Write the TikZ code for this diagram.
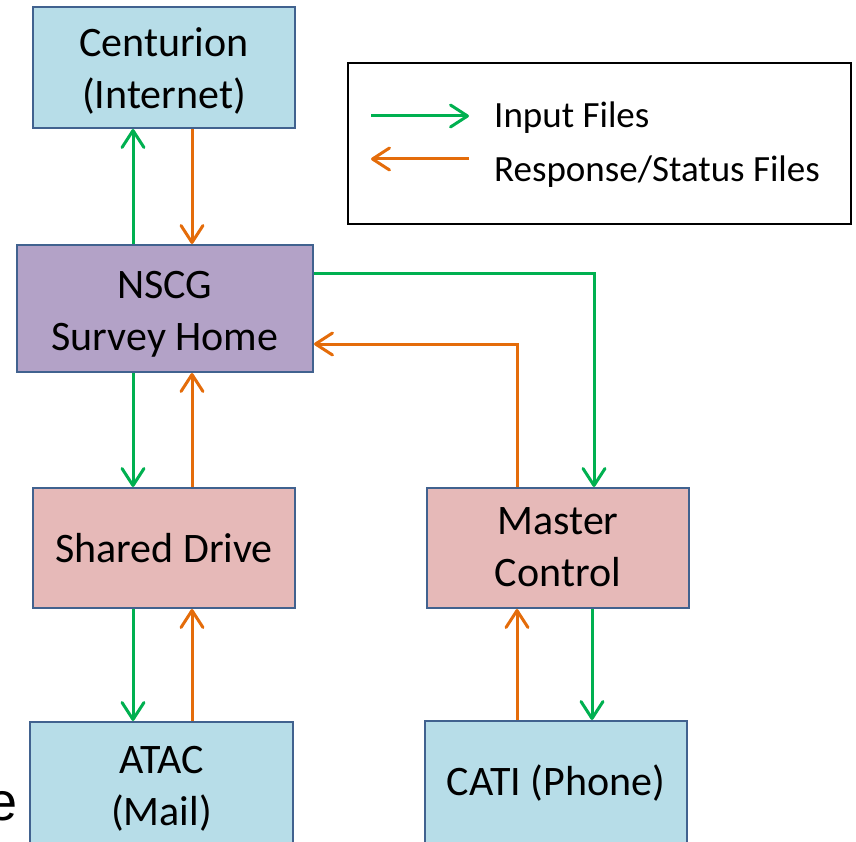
\documentclass[tikz,border=0pt]{standalone}
\usepackage{fontspec}
\setmainfont{Carlito}
\newfontfamily\arialfont{Liberation Sans}
\usetikzlibrary{arrows.meta,calc}
\definecolor{bluebox}{HTML}{B7DDE8}
\definecolor{purplebox}{HTML}{B3A2C7}
\definecolor{pinkbox}{HTML}{E6B9B8}
\definecolor{boxline}{HTML}{41628F}
\definecolor{ingreen}{HTML}{00B050}
\definecolor{resorange}{HTML}{E46C0A}
\newcommand{\lowerby}[2]{\raisebox{-#1}[\height][\depth]{\begin{tabular}{@{}c@{}}#2\end{tabular}}}
\tikzset{
  boxnode/.style={draw=boxline, line width=2pt, inner sep=0pt, align=center,
    font=\fontsize{42}{52}\selectfont},
  barb/.tip={Straight Barb[length=17pt,width=22pt,line width=3pt,line cap=round,line join=round]},
  inarrow/.style={draw=ingreen, line width=3pt, -{barb}},
  resarrow/.style={draw=resorange, line width=3pt, -{barb}},
  legendtext/.style={anchor=base west, inner sep=0pt, font=\fontsize{37}{44}\selectfont},
}
\begin{document}
\begin{tikzpicture}[x=1pt,y=-1pt]
\useasboundingbox (0,0) rectangle (856,842);

% boxes
\node[boxnode, fill=bluebox, minimum width=262pt, minimum height=121pt] (cent) at (164,67.5) {\lowerby{5pt}{Centurion\\(Internet)}};
\node[boxnode, fill=purplebox, minimum width=296pt, minimum height=127pt] (nscg) at (165,308.5) {\lowerby{6pt}{NSCG\\Survey Home}};
\node[boxnode, fill=pinkbox, minimum width=262pt, minimum height=120pt] (sd) at (164,548) {Shared Drive};
\node[boxnode, fill=pinkbox, minimum width=262pt, minimum height=120pt] (mc) at (558,548) {\lowerby{2pt}{Master\\Control}};
\node[boxnode, fill=bluebox, minimum width=263pt, minimum height=128pt] (atac) at (161.5,786) {\lowerby{3pt}{ATAC\\(Mail)}};
\node[boxnode, fill=bluebox, minimum width=262pt, minimum height=124pt] (cati) at (556,783) {CATI (Phone)};

% cropped slide letter
\node[anchor=base east, inner sep=0pt, font=\arialfont\fontsize{54}{60}\selectfont] (cut) at (18,820) {e};

% x / y guide coordinates
\coordinate (xa) at (133,0);
\coordinate (xb) at (192,0);
\coordinate (xc) at (594,0);
\coordinate (xd) at (517,0);
\coordinate (xe) at (592,0);
\coordinate (ya) at (0,273);
\coordinate (yb) at (0,344);

% connectors
\draw[inarrow] (nscg.north -| xa) -- (cent.south -| xa);
\draw[resarrow] (cent.south -| xb) -- (nscg.north -| xb);
\draw[inarrow] (nscg.east |- ya) -| (mc.north -| xc);
\draw[resarrow] (mc.north -| xd) |- (nscg.east |- yb);
\draw[inarrow] (nscg.south -| xa) -- (sd.north -| xa);
\draw[resarrow] (sd.north -| xb) -- (nscg.south -| xb);
\draw[inarrow] (sd.south -| xa) -- (atac.north -| xa);
\draw[resarrow] (atac.north -| xb) -- (sd.south -| xb);
\draw[resarrow] (cati.north -| xd) -- (mc.south -| xd);
\draw[inarrow] (mc.south -| xe) -- (cati.north -| xe);

% legend
\node[draw=black, line width=2pt, minimum width=503pt, minimum height=161pt, inner sep=0pt] (legend) at (599.5,143.5) {};
\coordinate (lga) at (371,116);
\coordinate (lgb) at (469,116);
\coordinate (lgc) at (469,159);
\coordinate (lgd) at (371,159);
\draw[inarrow] (lga) -- (lgb);
\draw[resarrow] (lgc) -- (lgd);
\node[legendtext] (lt1) at (494,128) {Input Files};
\node[legendtext] (lt2) at (494,182) {Response/Status Files};
\end{tikzpicture}
\end{document}
